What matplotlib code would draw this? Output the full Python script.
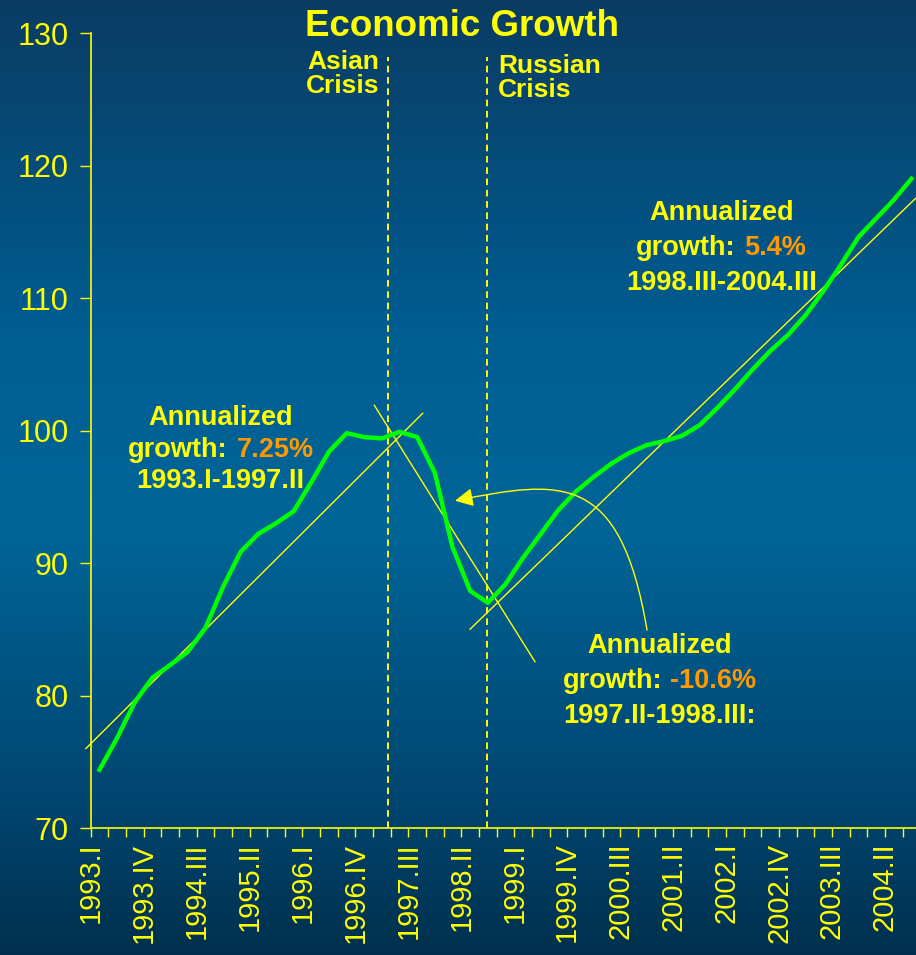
import numpy as np
import matplotlib
matplotlib.use("Agg")
import matplotlib.pyplot as plt
from matplotlib.colors import LinearSegmentedColormap
from matplotlib.patches import FancyArrowPatch
from matplotlib.path import Path

# dati: indice trimestrale 1993.I - 2004.III
years = list(range(1993, 2005))
roman = ["I", "II", "III", "IV"]
quarters = [f"{y}.{q}" for y in years for q in roman][:47]

gdp = [74.4, 76.8, 79.5, 81.35, 82.3, 83.3, 85.1, 88.2, 90.85, 92.2,
       93.0, 93.9, 96.1, 98.4, 99.8, 99.5, 99.4, 99.9, 99.5, 96.8,
       91.2, 87.9, 87.0, 88.4, 90.4, 92.2, 94.0, 95.4, 96.5, 97.5,
       98.3, 98.9, 99.2, 99.6, 100.4, 101.7, 103.1, 104.6, 106.0, 107.2,
       108.7, 110.5, 112.5, 114.6, 116.0, 117.4, 119.0]

# linee di tendenza (x in trimestri, y indice)
trend1_x = [-0.27, 18.81]
trend1_y = [76.0, 101.3]
trend2_x = [16.07, 25.17]
trend2_y = [101.9, 82.55]
trend3_x = [21.49, 46.76]
trend3_y = [85.0, 117.55]

asian_x = 16.84
russian_x = 22.45

yellow = "#ffff00"
orange = "#ff9900"
green = "#00ff00"

plt.rcParams["font.family"] = ["Liberation Sans", "DejaVu Sans"]

fig = plt.figure(figsize=(9.16, 9.55), dpi=100)

# sfondo sfumato
bg = fig.add_axes([0, 0, 1, 1])
cmap = LinearSegmentedColormap.from_list(
    "bg", [(0.0, "#0a3c63"), (0.35, "#005d92"), (0.55, "#006598"),
           (0.85, "#00446e"), (1.0, "#00304d")])
bg.imshow(np.linspace(0, 1, 256).reshape(-1, 1), aspect="auto", cmap=cmap,
          extent=[0, 1, 0, 1])
bg.set_axis_off()

ax = fig.add_axes([90.7 / 916, 127 / 955, (916 - 90.7) / 916, 795 / 955])
ax.set_facecolor("none")

x = np.arange(len(gdp)) + 0.5
ax.plot(x, gdp, color=green, lw=3.2, solid_joinstyle="round", zorder=4)

for tx, ty in [(trend1_x, trend1_y), (trend2_x, trend2_y), (trend3_x, trend3_y)]:
    ax.plot(tx, ty, color=yellow, lw=1.0, clip_on=False, zorder=3)

# crisi
for cx in [asian_x, russian_x]:
    ax.plot([cx, cx], [70, 128.2], color=yellow, lw=1.4,
            linestyle=(0, (3.4, 2.4)), zorder=2)

ax.set_xlim(0, 46.76)
ax.set_ylim(70, 130)

# assi
for side in ["top", "right"]:
    ax.spines[side].set_visible(False)
for side in ["left", "bottom"]:
    ax.spines[side].set_color(yellow)
    ax.spines[side].set_linewidth(1.2)

ax.set_yticks(range(70, 131, 10))
ax.tick_params(axis="y", colors=yellow, length=7.7, width=1.0, pad=8, labelsize=22)
ax.set_xticks(range(0, 47))
ax.set_xticklabels([quarters[i] if i % 3 == 0 else "" for i in range(47)],
                   rotation=90, va="top", ha="center")
ax.tick_params(axis="x", colors=yellow, length=6.5, width=1.0, pad=4, labelsize=21)

fig.text(462 / 916, (955 - 36) / 955, "Economic Growth", color=yellow,
         fontsize=26.5, fontweight="bold", ha="center", va="baseline")

bold = dict(color=yellow, fontsize=19, fontweight="bold", va="baseline")
ax.text(16.35, 127.3, "Asian", ha="right", **bold)
ax.text(16.35, 125.45, "Crisis", ha="right", **bold)
ax.text(23.09, 127.0, "Russian", ha="left", **bold)
ax.text(23.09, 125.2, "Crisis", ha="left", **bold)


# blocchi di testo con percentuale arancione
def growth_block(cx, base_y, split_l, split_r, pct, period):
    kw = dict(fontsize=19.5, fontweight="bold", va="baseline")
    ax.text(cx, base_y[0], "Annualized", color=yellow, ha="center", **kw)
    ax.text(split_l, base_y[1], "growth:", color=yellow, ha="right", **kw)
    ax.text(split_r, base_y[1], pct, color=orange, ha="left", **kw)
    ax.text(cx, base_y[2], period, color=yellow, ha="center", **kw)


growth_block(7.35, [100.42, 98.0, 95.66], 7.74, 8.27, "7.25%", "1993.I-1997.II")
growth_block(35.75, [115.89, 113.25, 110.6], 36.53, 37.01, "5.4%", "1998.III-2004.III")
growth_block(32.23, [83.23, 80.54, 77.9], 32.38, 32.82, "-10.6%", "1997.II-1998.III:")

# freccia curva
arrow_path = Path([(31.52, 84.94), (29.99, 97.02), (26.59, 96.26), (20.64, 94.7)],
                  [Path.MOVETO, Path.CURVE4, Path.CURVE4, Path.CURVE4])
arrow = FancyArrowPatch(path=arrow_path, arrowstyle="-|>,head_length=0.55,head_width=0.28",
                        mutation_scale=20, color=yellow, lw=1.0, zorder=5)
ax.add_patch(arrow)

fig.savefig("out.png", dpi=100)
